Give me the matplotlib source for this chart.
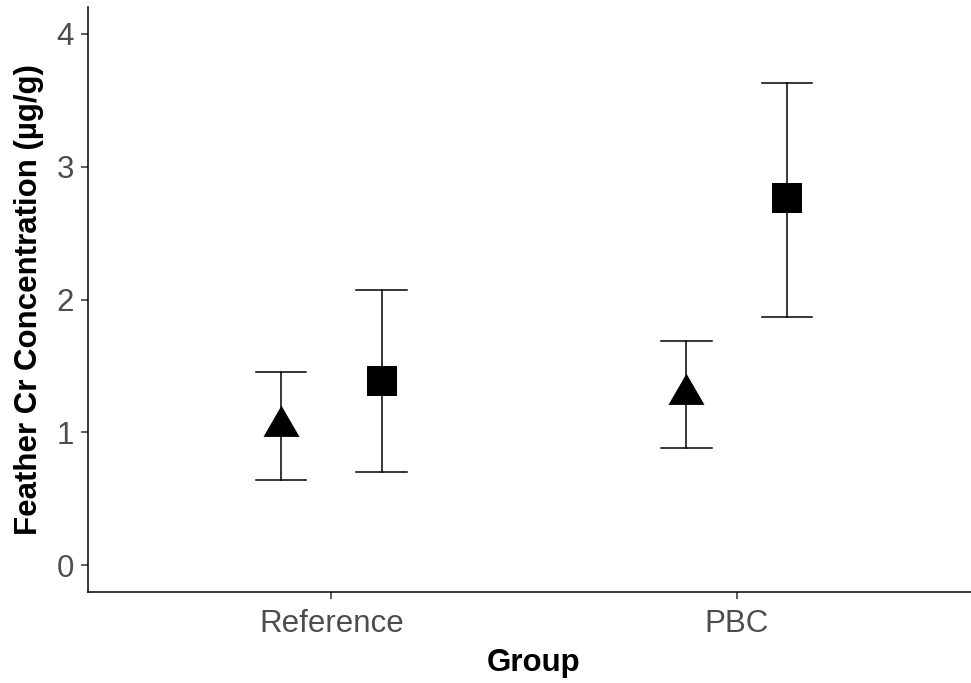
import numpy as np
import matplotlib
matplotlib.use("Agg")
import matplotlib.pyplot as plt
from matplotlib.path import Path

# valores
grupos = ["Reference", "PBC"]
tri_media = [1.05, 1.29]
tri_inf = [0.64, 0.88]
tri_sup = [1.455, 1.69]
qua_media = [1.39, 2.76]
qua_inf = [0.70, 1.87]
qua_sup = [2.07, 3.63]

plt.rcParams['font.family'] = ['Liberation Sans', 'DejaVu Sans']

W, H = 971, 683
fig = plt.figure(figsize=(W / 100, H / 100), dpi=100)
ax = fig.add_axes([88 / W, 91 / H, (W - 88) / W, 585 / H])

# triangulo centrado no baricentro (como o pch 17 do R)
tri = Path([(0, 1), (-0.866, -0.5), (0.866, -0.5), (0, 1)],
           [Path.MOVETO, Path.LINETO, Path.LINETO, Path.CLOSEPOLY])

x = np.arange(1, len(grupos) + 1)
desl = 0.124
cap = 0.062

def barras(xs, media, inf, sup, marker, ms):
    for xi, m, lo, hi in zip(xs, media, inf, sup):
        ax.plot([xi, xi], [lo, hi], color='black', lw=1.1, zorder=2)
        ax.plot([xi - cap, xi + cap], [lo, lo], color='black', lw=1.1, zorder=2)
        ax.plot([xi - cap, xi + cap], [hi, hi], color='black', lw=1.1, zorder=2)
    ax.plot(xs, media, linestyle='none', marker=marker, ms=ms, color='black',
            mew=0, zorder=3)

barras(x - desl, tri_media, tri_inf, tri_sup, tri, 30)
barras(x + desl, qua_media, qua_inf, qua_sup, 's', 21.6)

ax.set_xlim(0.4, 2.578)
ax.set_ylim(-0.2, 4.2)
ax.set_xticks(x)
ax.set_xticklabels(grupos)
ax.set_yticks([0, 1, 2, 3, 4])

for s in ['top', 'right']:
    ax.spines[s].set_visible(False)
for s in ['left', 'bottom']:
    ax.spines[s].set_linewidth(1.1)
    ax.spines[s].set_color('black')

ax.tick_params(axis='both', length=5.2, width=1.1, color='#333333',
               labelsize=22.5, labelcolor='#4D4D4D')
ax.tick_params(axis='x', pad=7)
ax.tick_params(axis='y', pad=5)

ax.set_xlabel("Group", fontsize=22.5, fontweight='bold', color='black')
ax.set_ylabel("Feather Cr Concentration (µg/g)", fontsize=22.5,
              fontweight='bold', color='black')
ax.xaxis.set_label_coords((534 - 88) / (W - 88), -0.095)
ax.yaxis.set_label_coords(-0.05, 0.5)

fig.savefig("out.png", dpi=100)
